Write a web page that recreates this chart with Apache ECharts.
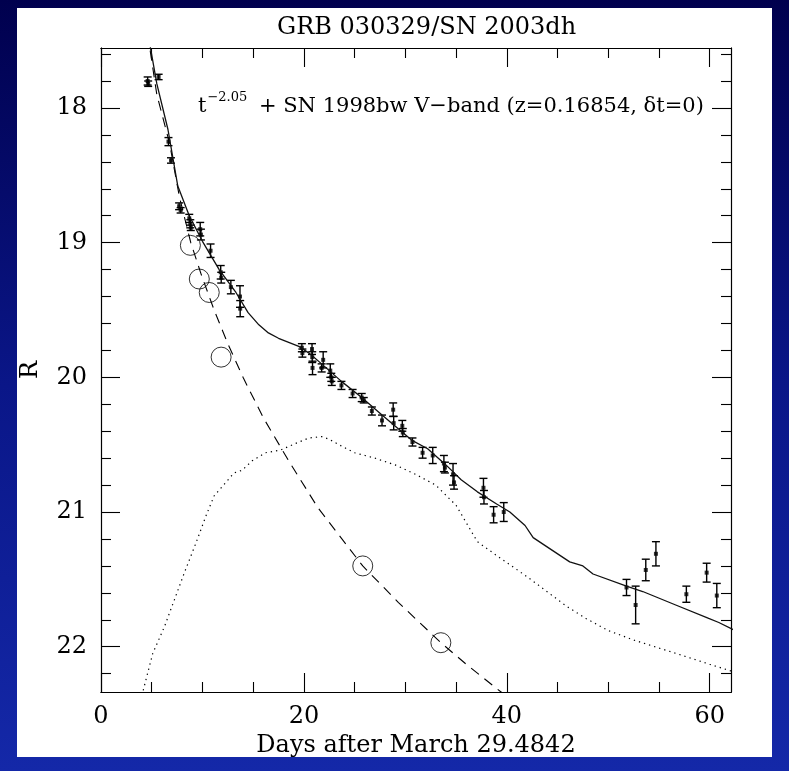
<!DOCTYPE html>
<html><head><meta charset="utf-8">
<script src="https://cdn.jsdelivr.net/npm/echarts@6/dist/echarts.min.js"></script>
<style>html,body{margin:0;padding:0;background:#0a1670;}#c{width:789px;height:771px;}</style>
</head><body><div id="c"></div>
<script>
// ---- data ----
const xTicksMajor = [0, 20, 40, 60];
const xTicksMinor = [5, 10, 15, 25, 30, 35, 45, 50, 55];
const yTicksMajor = [18, 19, 20, 21, 22];
const yTicksMinor = [17.6, 17.8, 18.2, 18.4, 18.6, 18.8, 19.2, 19.4, 19.6, 19.8, 20.2, 20.4, 20.6, 20.8, 21.2, 21.4, 21.6, 21.8, 22.2];

// observed R magnitudes with error bars
const obsDay = [4.60, 4.65, 5.68, 6.65, 6.90, 7.70, 7.85, 8.70, 8.80, 8.85, 9.78, 9.85, 10.80, 11.80, 11.85, 12.80, 13.70, 13.72,
  19.80, 19.85, 20.80, 20.82, 20.85, 21.90, 21.75, 22.60, 22.70, 22.75, 23.70, 24.80, 25.70, 25.90, 26.70, 27.70, 28.80, 28.85,
  29.70, 29.75, 30.70, 31.70, 32.70, 33.80, 33.90, 34.70, 34.80, 37.70, 37.75, 38.70, 39.70,
  51.80, 52.70, 53.70, 54.70, 57.70, 59.70, 60.70];
const obsMag = [17.80, 17.82, 17.77, 18.25, 18.39, 18.73, 18.76, 18.82, 18.86, 18.89, 18.90, 18.94, 19.06, 19.22, 19.26, 19.33, 19.40, 19.49,
  19.78, 19.82, 19.79, 19.85, 19.93, 19.87, 19.93, 19.95, 20.00, 20.03, 20.06, 20.12, 20.15, 20.17, 20.25, 20.32, 20.24, 20.34,
  20.36, 20.41, 20.48, 20.56, 20.58, 20.64, 20.67, 20.72, 20.78, 20.82, 20.89, 21.02, 21.00,
  21.56, 21.69, 21.43, 21.31, 21.61, 21.45, 21.62];
const obsErr = [0.03, 0.02, 0.02, 0.03, 0.02, 0.025, 0.02, 0.03, 0.03, 0.02, 0.05, 0.04, 0.05, 0.05, 0.04, 0.05, 0.08, 0.06,
  0.03, 0.03, 0.04, 0.04, 0.05, 0.06, 0.03, 0.05, 0.03, 0.03, 0.03, 0.03, 0.03, 0.02, 0.03, 0.04, 0.05, 0.05,
  0.04, 0.03, 0.03, 0.04, 0.06, 0.06, 0.04, 0.08, 0.05, 0.07, 0.05, 0.06, 0.07,
  0.06, 0.14, 0.08, 0.09, 0.06, 0.07, 0.09];

// afterglow-subtracted points (open circles)
const circDay = [8.81, 9.69, 10.67, 11.84, 25.8, 33.5];
const circMag = [19.02, 19.27, 19.37, 19.85, 21.40, 21.97];

// power-law afterglow (dashed)
const plDay = [4.6, 5.5, 6.75, 7.73, 8.85, 9.85, 11.15, 12.5, 14.0, 16.0, 18.5, 21.4, 25.8, 29.3, 33.5, 36.0, 39.5];
const plMag = [17.45, 17.90, 18.26, 18.66, 19.00, 19.23, 19.50, 19.75, 20.00, 20.30, 20.62, 20.97, 21.40, 21.67, 21.97, 22.13, 22.34];

// SN 1998bw template (dotted)
const snDay = [3.9, 5.1, 6.26, 7.24, 8.22, 9.36, 10.34, 11.15, 12.3, 13.1, 13.9, 14.9, 16.2, 17.7, 19.2, 20.5, 21.75, 22.5, 23.7,
  25.0, 27.0, 29.0, 31.0, 33.0, 35.0, 37.1, 39.5, 42.0, 45.9, 47.8, 50.0, 52.5, 56.7, 60.0, 62.5];
const snMag = [22.40, 22.05, 21.85, 21.65, 21.45, 21.23, 21.03, 20.88, 20.78, 20.71, 20.69, 20.62, 20.56, 20.54, 20.49, 20.45, 20.44, 20.46, 20.51,
  20.56, 20.60, 20.65, 20.72, 20.80, 20.95, 21.22, 21.35, 21.48, 21.70, 21.79, 21.88, 21.95, 22.05, 22.13, 22.19];

// total model (solid)
const totDay = [4.75, 5.5, 6.6, 7.57, 8.7, 10.0, 11.65, 13.3, 14.5, 15.56, 16.5, 17.5, 18.5, 19.5, 20.5, 21.75, 23.7, 25.7, 27.7, 30.7, 32.2, 34.0, 35.5,
  37.1, 39.0, 40.3, 41.8, 42.6, 43.6, 46.2, 47.5, 48.5, 51.8, 53.4, 56.65, 59.9, 60.9, 62.5];
const totMag = [17.50, 17.82, 18.16, 18.58, 18.80, 18.99, 19.20, 19.37, 19.52, 19.61, 19.67, 19.71, 19.74, 19.77, 19.82, 19.90, 20.03, 20.15, 20.28, 20.47, 20.53, 20.65, 20.76,
  20.85, 20.94, 21.00, 21.10, 21.19, 21.24, 21.37, 21.40, 21.46, 21.55, 21.59, 21.69, 21.79, 21.82, 21.88];

// ---- chart ----
const FONT = 'DejaVu Serif';
const X_MIN = 0, X_MAX = 62.1, Y_MIN = 17.555, Y_MAX = 22.336;
const zip = (a, b) => a.map((v, i) => [v, b[i]]);

function xAx(pos, ticks, len, labels) {
  return {
    type: 'value', position: pos, min: X_MIN, max: X_MAX,
    axisLine: { show: true, onZero: false, lineStyle: { color: '#000', width: 1.1 } },
    axisTick: { show: true, inside: true, length: len, customValues: ticks, lineStyle: { color: '#000', width: 1.1 } },
    axisLabel: labels ? { show: true, customValues: labels, margin: 13, color: '#000', fontFamily: FONT, fontSize: 24 } : { show: false },
    splitLine: { show: false }
  };
}
function yAx(pos, ticks, len, labels) {
  return {
    type: 'value', position: pos, min: Y_MIN, max: Y_MAX, inverse: true,
    axisLine: { show: true, onZero: false, lineStyle: { color: '#000', width: 1.1 } },
    axisTick: { show: true, inside: true, length: len, customValues: ticks, lineStyle: { color: '#000', width: 1.1 } },
    axisLabel: labels ? { show: true, customValues: labels, margin: 14, color: '#000', fontFamily: FONT, fontSize: 24 } : { show: false },
    splitLine: { show: false }
  };
}

const xBottom = xAx('bottom', xTicksMajor, 19, xTicksMajor);
xBottom.name = 'Days after March 29.4842';
xBottom.nameLocation = 'middle';
xBottom.nameGap = 36;
xBottom.nameTextStyle = { color: '#000', fontFamily: FONT, fontSize: 24 };
const yLeft = yAx('left', yTicksMajor, 19, yTicksMajor);
yLeft.name = 'R';
yLeft.nameLocation = 'middle';
yLeft.nameGap = 58;
yLeft.nameTextStyle = { color: '#000', fontFamily: FONT, fontSize: 24 };

const chart = echarts.init(document.getElementById('c'), null, { renderer: 'canvas' });
chart.setOption({
  animation: false,
  backgroundColor: { type: 'linear', x: 0, y: 0, x2: 0, y2: 1,
    colorStops: [{ offset: 0, color: '#00004e' }, { offset: 0.5, color: '#0a1688' }, { offset: 1, color: '#1428a8' }] },
  graphic: { elements: [
    { type: 'rect', z: -100, silent: true, shape: { x: 17, y: 8, width: 755, height: 749 }, style: { fill: '#ffffff' } },
    { type: 'text', z: 100, x: 198, y: 104, silent: true,
      style: { text: '{a|t}{s|−2.05}{a| + SN 1998bw V−band (z=0.16854, δt=0)}',
        verticalAlign: 'middle', fill: '#000',
        rich: { a: { fontFamily: FONT, fontSize: 21, lineHeight: 26, verticalAlign: 'bottom' },
                s: { fontFamily: FONT, fontSize: 13, lineHeight: 26, verticalAlign: 'top', padding: [0, 5, 0, 1] } } } }
  ] },
  title: { text: 'GRB 030329/SN 2003dh', left: 272, top: 11,
    textStyle: { color: '#000', fontFamily: FONT, fontSize: 24, fontWeight: 'normal' } },
  grid: { left: 101, top: 48, width: 630, height: 644, containLabel: false },
  xAxis: [xBottom, xAx('bottom', xTicksMinor, 10, null), xAx('top', xTicksMajor, 19, null), xAx('top', xTicksMinor, 10, null)],
  yAxis: [yLeft, yAx('left', yTicksMinor, 10, null), yAx('right', yTicksMajor, 19, null), yAx('right', yTicksMinor, 10, null)],
  series: [
    { type: 'line', data: zip(snDay, snMag), showSymbol: false, clip: true, smooth: false,
      lineStyle: { color: '#000', width: 1.2, type: [1.3, 4] } },
    { type: 'line', data: zip(plDay, plMag), showSymbol: false, clip: true,
      lineStyle: { color: '#000', width: 1.1, type: [10, 7] } },
    { type: 'line', data: zip(totDay, totMag), showSymbol: false, clip: true,
      lineStyle: { color: '#111', width: 1.3 } },
    { type: 'scatter', data: zip(circDay, circMag), symbol: 'circle', symbolSize: 20,
      itemStyle: { color: 'rgba(0,0,0,0)', borderColor: '#000', borderWidth: 1 } },
    { type: 'custom', data: obsDay.map((d, i) => [d, obsMag[i], obsErr[i]]), clip: true,
      renderItem: function (params, api) {
        const x = api.value(0), y = api.value(1), e = api.value(2);
        const p1 = api.coord([x, y - e]), p2 = api.coord([x, y + e]);
        const w = 4;
        const st = { stroke: '#000', lineWidth: 1.4 };
        return { type: 'group', children: [
          { type: 'line', shape: { x1: p1[0], y1: p1[1], x2: p2[0], y2: p2[1] }, style: st },
          { type: 'line', shape: { x1: p1[0] - w, y1: p1[1], x2: p1[0] + w, y2: p1[1] }, style: st },
          { type: 'line', shape: { x1: p2[0] - w, y1: p2[1], x2: p2[0] + w, y2: p2[1] }, style: st }
        ] };
      } },
    { type: 'scatter', data: zip(obsDay, obsMag), symbol: 'rect', symbolSize: 4,
      itemStyle: { color: '#000' } }
  ]
});
</script></body></html>
